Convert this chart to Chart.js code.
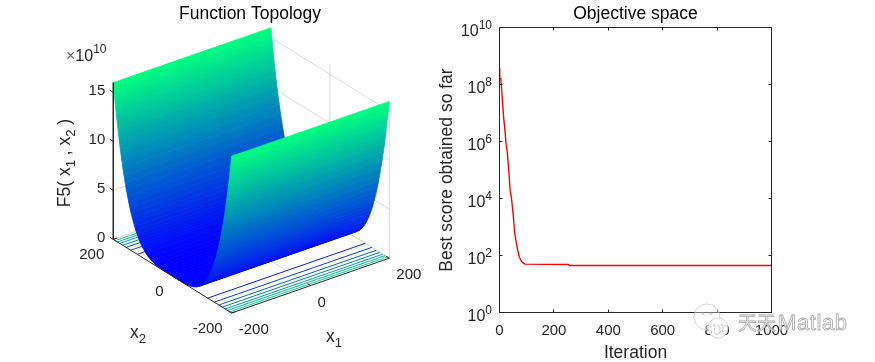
<!DOCTYPE html>
<html>
<head>
<meta charset="utf-8">
<title>Function Topology and Objective space</title>
<script src="https://cdn.jsdelivr.net/npm/chart.js@4"></script>
<style>
    html, body { margin: 0; padding: 0; background: #fff; }
    body { position: relative; width: 875px; height: 362px; overflow: hidden; }
    canvas { position: absolute; top: 0; }
    #topologyChart { left: 0; }
    #objectiveChart { left: 437px; }
</style>
</head>
<body>
<canvas id="topologyChart" width="437" height="362"></canvas>
<canvas id="objectiveChart" width="438" height="362"></canvas>
<script>
// Surface profile (z in units of 1e10), mirrored around x2 = 0
const surfaceX2 = [0, 10, 20, 30, 40, 50, 60, 70, 80, 90, 100, 104, 108, 112, 116, 120, 124, 128, 132, 136,
    140, 144, 148, 152, 156, 160, 164, 168, 172, 176, 180, 184, 188, 192, 196, 200];
const surfaceZ = [0, 0.0001, 0.0016, 0.008, 0.026, 0.063, 0.13, 0.24, 0.41, 0.66, 1.0, 1.17, 1.36, 1.57, 1.81, 2.07,
    2.36, 2.68, 3.04, 3.42, 3.84, 4.3, 4.8, 5.34, 5.92, 6.55, 7.23, 7.97, 8.75, 9.6, 10.5, 11.46, 12.49, 13.59, 14.76, 16];

// Contour lines on the floor: level (1e10) and where it crosses x2
const contourLevels = [2, 4, 6, 8, 10, 12, 14];
const contourX2 = [119, 141, 156.5, 168, 178, 186, 193.4];

const x1Ticks = [-200, 0, 200];
const x2Ticks = [-200, 0, 200];
const zTicks = [0, 5, 10, 15];
const zTop = 16;
const x1Range = [-200, 200];

// Convergence curve of the right plot
const iterations = [0, 1, 5, 9, 15, 20, 24, 29, 34, 39, 45, 51, 56, 61, 67, 73, 82, 94, 253, 257, 1000];
const bestScores = [3.7e8, 1.6e8, 1.6e8, 4.8e7, 7.4e6, 2.5e6, 8.5e5, 3.8e5, 9.8e4, 2e4, 8.7e3, 2.3e3, 590, 300, 155, 89, 60, 50, 48.3, 44.6, 44.6];
const xTickValues = [0, 200, 400, 600, 800, 1000];
const yTickPowers = [0, 2, 4, 6, 8, 10];

const FONT = "'Liberation Sans', Arial, sans-serif";
const TEXT_COLOR = '#262626';
const GRID_COLOR = '#dcdcdc';
const TICK_SIZE = 15;
const LABEL_SIZE = 17.5;

// Orthographic view of the 3D box, result is in the view units of the chart scales
const project = (x1, x2, z) => ({
    x: 251.3 + 0.394 * x1 - 0.296 * x2,
    y: 248.8 - 0.137 * x1 - 0.184 * x2 - 9.8 * z
});

// MATLAB winter colormap
const winter = z => {
    const t = Math.min(1, z / zTop);
    return `rgb(0, ${Math.round(255 * t)}, ${Math.round(255 - 127.5 * t)})`;
};

const lineDataset = (points, color, width) => ({
    data: points.map(p => project(p[0], p[1], p[2])),
    showLine: true,
    borderColor: color,
    borderWidth: width,
    pointRadius: 0,
    tension: 0,
    fill: false,
    clip: false
});

// Colour ramp for one surface band, running across the band (view units are canvas pixels here)
function bandGradient(ctx, x2a, za, x2b, zb) {
    const a = project(x1Range[0], x2a, za);
    const b = project(x1Range[0], x2b, zb);
    const along = project(x1Range[1], x2a, za);
    const ex = along.x - a.x, ey = along.y - a.y;
    const len = Math.hypot(ex, ey);
    const nx = -ey / len, ny = ex / len;
    const dist = (b.x - a.x) * nx + (b.y - a.y) * ny;
    const gradient = ctx.createLinearGradient(a.x, a.y, a.x + nx * dist, a.y + ny * dist);
    gradient.addColorStop(0, winter(za));
    gradient.addColorStop(1, winter(zb));
    return gradient;
}

function buildTopologyDatasets(ctx) {
    const sets = [];
    const [x1Min, x1Max] = x1Range;

    // Floor and back wall grid
    [0, x1Max].forEach(x1 => {
        sets.push(lineDataset([[x1, -200, 0], [x1, 200, 0]], GRID_COLOR, 1));
    });
    [0, 200].forEach(x2 => {
        sets.push(lineDataset([[x1Min, x2, 0], [x1Max, x2, 0]], GRID_COLOR, 1));
    });
    zTicks.forEach(z => {
        sets.push(lineDataset([[x1Min, 200, z], [x1Max, 200, z], [x1Max, -200, z]], GRID_COLOR, 1));
    });
    x1Ticks.slice(1).forEach(x1 => {
        sets.push(lineDataset([[x1, 200, 0], [x1, 200, zTop]], GRID_COLOR, 1));
    });
    x2Ticks.slice(0, 2).forEach(x2 => {
        sets.push(lineDataset([[x1Max, x2, 0], [x1Max, x2, zTop]], GRID_COLOR, 1));
    });

    // Contours on the floor
    contourLevels.forEach((level, i) => {
        [contourX2[i], -contourX2[i]].forEach(x2 => {
            sets.push(lineDataset([[x1Min, x2, 0], [x1Max, x2, 0]], winter(level), 1));
        });
    });

    // Surface bands, far side first so the near wall covers them
    const x2All = surfaceX2.slice().reverse().concat(surfaceX2.slice(1).map(v => -v));
    const zAll = surfaceZ.slice().reverse().concat(surfaceZ.slice(1));
    for (let i = 0; i < x2All.length - 1; i++) {
        const color = bandGradient(ctx, x2All[i], zAll[i], x2All[i + 1], zAll[i + 1]);
        const band = lineDataset([
            [x1Min, x2All[i], zAll[i]],
            [x1Max, x2All[i], zAll[i]],
            [x1Max, x2All[i + 1], zAll[i + 1]],
            [x1Min, x2All[i + 1], zAll[i + 1]],
            [x1Min, x2All[i], zAll[i]]
        ], color, 0.8);
        band.fill = 'shape';
        band.backgroundColor = color;
        sets.push(band);
    }

    // Black axes and ticks
    sets.push(lineDataset([[x1Min, 200, zTop], [x1Min, 200, 0], [x1Min, -200, 0], [x1Max, -200, 0]], '#262626', 1));
    zTicks.forEach(z => sets.push(lineDataset([[x1Min, 200, z], [x1Min, 212, z]], '#262626', 1)));
    x1Ticks.forEach(x1 => sets.push(lineDataset([[x1, -200, 0], [x1, -190, 0]], '#262626', 1)));
    x2Ticks.forEach(x2 => sets.push(lineDataset([[x1Min, x2, 0], [x1Min + 10, x2, 0]], '#262626', 1)));

    // Chart.js paints lower "order" on top
    sets.forEach((set, i) => { set.order = sets.length - i; });
    return sets;
}

// Text made of pieces with sub/superscripts, draws at the given anchor
function drawRich(ctx, parts, x, y, size, align, rotated) {
    const fontFor = part => `${part.sub || part.sup ? Math.round(size * 0.73) : size}px ${FONT}`;
    let total = 0;
    parts.forEach(part => {
        ctx.font = fontFor(part);
        total += ctx.measureText(part.t).width;
    });
    ctx.save();
    ctx.translate(x, y);
    if (rotated) ctx.rotate(-Math.PI / 2);
    ctx.textAlign = 'left';
    ctx.textBaseline = 'alphabetic';
    let pos = align === 'right' ? -total : align === 'center' ? -total / 2 : 0;
    parts.forEach(part => {
        ctx.font = fontFor(part);
        const shift = part.sub ? size * 0.3 : part.sup ? -size * 0.45 : 0;
        ctx.fillStyle = part.color || TEXT_COLOR;
        ctx.fillText(part.t, pos, shift);
        pos += ctx.measureText(part.t).width;
    });
    ctx.restore();
}

const topologyText = {
    id: 'topologyText',
    afterDraw(chart) {
        const ctx = chart.ctx;
        const sx = chart.scales.x, sy = chart.scales.y;
        const at = p => ({ x: sx.getPixelForValue(p.x), y: sy.getPixelForValue(p.y) });

        zTicks.forEach(z => {
            const p = at(project(-200, 200, z));
            drawRich(ctx, [{ t: String(z) }], p.x - 8, p.y + 2.4, TICK_SIZE, 'right');
        });
        x2Ticks.forEach(v => {
            const p = at(project(-200, v, 0));
            drawRich(ctx, [{ t: String(v) }], p.x - 9, p.y + 20, TICK_SIZE, 'right');
        });
        x1Ticks.forEach(v => {
            const p = at(project(v, -200, 0));
            drawRich(ctx, [{ t: String(v) }], p.x + 7, p.y + 21, TICK_SIZE, 'left');
        });

        drawRich(ctx, [{ t: '\u00d7', color: '#666' }, { t: '10' }, { t: '10', sup: true }], 66, 60.5, 16, 'left');
        drawRich(ctx, [{ t: 'F5( x' }, { t: '1', sub: true }, { t: ' , x' }, { t: '2', sub: true }, { t: ' )' }], 70, 163, LABEL_SIZE, 'center', true);
        drawRich(ctx, [{ t: 'x' }, { t: '2', sub: true }], 130, 338, LABEL_SIZE, 'left');
        drawRich(ctx, [{ t: 'x' }, { t: '1', sub: true }], 326, 342, LABEL_SIZE, 'left');
    }
};

// Inward ticks on all four sides, box, log labels and the watermark on top
const objectiveFrame = {
    id: 'objectiveFrame',
    afterDatasetsDraw(chart) {
        const ctx = chart.ctx;
        const { left, right, top, bottom } = chart.chartArea;
        ctx.save();
        ctx.strokeStyle = TEXT_COLOR;
        ctx.lineWidth = 1;
        ctx.beginPath();
        ctx.rect(Math.floor(left) + 0.5, Math.floor(top) + 0.5, Math.floor(right) - Math.floor(left), Math.floor(bottom) - Math.floor(top));
        xTickValues.forEach(v => {
            const x = Math.floor(chart.scales.x.getPixelForValue(v)) + 0.5;
            ctx.moveTo(x, bottom); ctx.lineTo(x, bottom - 3);
            ctx.moveTo(x, top); ctx.lineTo(x, top + 3);
        });
        yTickPowers.forEach(p => {
            const y = Math.floor(chart.scales.y.getPixelForValue(Math.pow(10, p))) + 0.5;
            ctx.moveTo(left, y); ctx.lineTo(left + 3, y);
            ctx.moveTo(right, y); ctx.lineTo(right - 3, y);
        });
        ctx.stroke();
        ctx.restore();
    },
    afterDraw(chart) {
        const ctx = chart.ctx;
        yTickPowers.forEach(p => {
            const y = chart.scales.y.getPixelForValue(Math.pow(10, p));
            drawRich(ctx, [{ t: '10' }, { t: String(p), sup: true }], chart.chartArea.left - 7.5, y + 8.4, 16, 'right');
        });

        // Watermark
        ctx.save();
        ctx.lineWidth = 0.7;
        ctx.strokeStyle = '#c4c4c4';
        [[270, 317, 13, 0.35], [281, 328, 10, 0.8]].forEach(face => {
            ctx.fillStyle = `rgba(255,255,255,${face[3]})`;
            ctx.beginPath();
            ctx.arc(face[0], face[1], face[2], 0, Math.PI * 2);
            ctx.fill();
            ctx.stroke();
            ctx.beginPath();
            ctx.arc(face[0] - 4, face[1] - 3, 1, 0, Math.PI * 2);
            ctx.moveTo(face[0] + 5, face[1] - 3);
            ctx.arc(face[0] + 4, face[1] - 3, 1, 0, Math.PI * 2);
            ctx.stroke();
        });
        ctx.textBaseline = 'alphabetic';
        ctx.lineWidth = 0.8;
        ctx.strokeStyle = '#a8a8a8';
        ctx.fillStyle = 'rgba(255,255,255,0.8)';
        ctx.font = "19px 'Noto Sans CJK SC'";
        ctx.fillText('\u5929\u5929', 301, 330);
        ctx.strokeText('\u5929\u5929', 301, 330);
        ctx.font = `22px ${FONT}`;
        ctx.letterSpacing = '0.6px';
        ctx.fillText('Matlab', 341, 330);
        ctx.strokeText('Matlab', 341, 330);
        ctx.restore();
    }
};

Chart.defaults.font.family = FONT;
Chart.defaults.color = TEXT_COLOR;

const topologyCanvas = document.getElementById('topologyChart');
const topologyChart = new Chart(topologyCanvas, {
    type: 'scatter',
    data: { datasets: buildTopologyDatasets(topologyCanvas.getContext('2d')) },
    plugins: [topologyText],
    options: {
        responsive: false,
        animation: false,
        events: [],
        layout: { padding: { left: 63, right: 0, top: 0, bottom: 0 } },
        plugins: {
            legend: { display: false },
            tooltip: { enabled: false },
            title: {
                display: true,
                text: 'Function Topology',
                color: '#000',
                fullSize: false,
                font: { size: LABEL_SIZE, weight: 'normal' },
                padding: { top: 3.5, bottom: 3 }
            }
        },
        scales: {
            x: { type: 'linear', display: false, min: 63, max: 437 },
            y: { type: 'linear', display: false, min: 27.5, max: 362, reverse: true }
        }
    }
});

const objectiveChart = new Chart(document.getElementById('objectiveChart'), {
    type: 'line',
    data: {
        datasets: [{
            data: iterations.map((it, i) => ({ x: it, y: bestScores[i] })),
            borderColor: '#ff0000',
            borderWidth: 1.4,
            pointRadius: 0,
            tension: 0,
            fill: false
        }]
    },
    plugins: [objectiveFrame],
    options: {
        responsive: false,
        animation: false,
        events: [],
        layout: { padding: { left: 0, right: 103.5, top: 0, bottom: 0 } },
        plugins: {
            legend: { display: false },
            tooltip: { enabled: false },
            title: {
                display: true,
                text: 'Objective space',
                color: '#000',
                fullSize: false,
                font: { size: LABEL_SIZE, weight: 'normal' },
                padding: { top: 3.5, bottom: 3 }
            }
        },
        scales: {
            x: {
                type: 'linear',
                min: 0,
                max: 1000,
                grid: { display: false },
                border: { display: false },
                afterBuildTicks: scale => { scale.ticks = xTickValues.map(v => ({ value: v })); },
                afterFit: scale => { scale.height = 49.5; },
                ticks: { autoSkip: false, maxRotation: 0, padding: 1, color: TEXT_COLOR, font: { size: TICK_SIZE }, callback: v => String(v) },
                title: { display: true, text: 'Iteration', color: TEXT_COLOR, font: { size: LABEL_SIZE }, padding: { top: 0, bottom: -1.5 } }
            },
            y: {
                type: 'logarithmic',
                min: 1,
                max: 1e10,
                grid: { display: false },
                border: { display: false },
                afterFit: scale => { scale.width = 62.5; },
                ticks: { display: false },
                title: { display: true, text: 'Best score obtained so far', color: TEXT_COLOR, font: { size: LABEL_SIZE }, padding: 0 }
            }
        }
    }
});
</script>
</body>
</html>
